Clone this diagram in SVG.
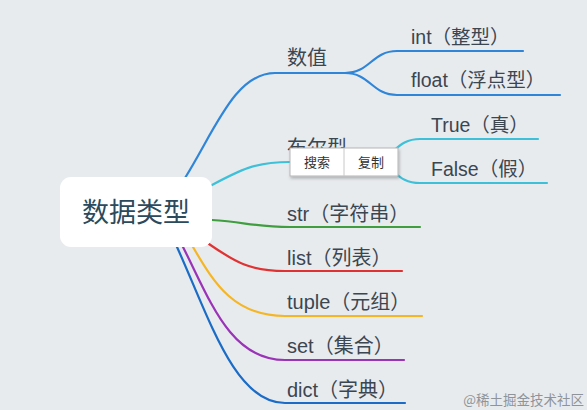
<svg xmlns="http://www.w3.org/2000/svg" width="587" height="410" viewBox="0 0 587 410">
<defs>
<style>
.t{font-family:"Liberation Sans","Noto Sans CJK SC",sans-serif;fill:#3b4651}
.br{font-size:20px}
.lf{font-size:19.5px}
.b{fill:none;stroke-width:2.2;stroke-linecap:round}
.pt{font-family:"Noto Sans CJK SC",sans-serif;font-size:13px;fill:#333;text-anchor:middle}
</style>
<filter id="sh" x="-10%" y="-20%" width="130%" height="160%"><feDropShadow dx="1" dy="2" stdDeviation="1.5" flood-color="#000" flood-opacity="0.25"/></filter>
</defs>
<rect width="587" height="410" fill="#e8ebee"/>
<g id="connectors">
<path class="b" stroke="#2f86d8" d="M185,178 C215,130 235,73 275,73 H345"/>
<path class="b" stroke="#2f86d8" d="M345,73 C370,73 372,51 397,51 H523"/>
<path class="b" stroke="#2f86d8" d="M345,73 C370,73 372,95 397,95 H560"/>
<path class="b" stroke="#3ec0d8" d="M212,185 C240,170 255,162 290,162 H368"/>
<path class="b" stroke="#3ec0d8" d="M368,162 C394,162 394,139 420,139 H538"/>
<path class="b" stroke="#3ec0d8" d="M368,162 C394,162 394,183 420,183 H547"/>
<path class="b" stroke="#3f9e3f" d="M212,220 C245,222 255,227 290,227 H420"/>
<path class="b" stroke="#e03232" d="M209,244 C235,262 250,271 285,271 H402"/>
<path class="b" stroke="#f5b626" d="M193,247 C215,285 235,316 285,316 H422"/>
<path class="b" stroke="#9a33b8" d="M183,247 C210,300 230,360 285,360 H404"/>
<path class="b" stroke="#1a6cc6" d="M177,247 C210,320 235,403 285,403 H405"/>
</g>
<g id="root">
<rect x="60" y="177" width="152" height="70" rx="11" fill="#ffffff"/>
<text class="t" x="136" y="222" font-size="27" text-anchor="middle" style="fill:#2b4a5c">数据类型</text>
</g>
<g id="n-shuzhi"><text class="t br" x="287" y="65">数值</text></g>
<g id="n-int"><text class="t lf" x="411" y="44">int（整型）</text></g>
<g id="n-float"><text class="t lf" x="411" y="87">float（浮点型）</text></g>
<g id="n-bool"><text class="t br" x="287" y="155">布尔型</text></g>
<g id="n-true"><text class="t lf" x="431" y="132">True（真）</text></g>
<g id="n-false"><text class="t lf" x="431" y="176">False（假）</text></g>
<g id="n-str"><text class="t br" x="287" y="221">str（字符串）</text></g>
<g id="n-list"><text class="t br" x="287" y="265">list（列表）</text></g>
<g id="n-tuple"><text class="t br" x="287" y="309">tuple（元组）</text></g>
<g id="n-set"><text class="t br" x="287" y="353">set（集合）</text></g>
<g id="n-dict"><text class="t br" x="287" y="397">dict（字典）</text></g>
<g id="popup">
<rect x="290" y="148" width="108" height="28" fill="#ffffff" stroke="#b5b5b5" stroke-width="1" filter="url(#sh)"/>
<line x1="344" y1="148" x2="344" y2="176" stroke="#c8c8c8" stroke-width="1"/>
<text class="pt" x="317" y="167">搜索</text>
<text class="pt" x="371" y="167">复制</text>
</g>
<text x="584" y="405" font-family="'Noto Sans CJK SC',sans-serif" font-size="13.5" text-anchor="end" fill="#8e949a">@稀土掘金技术社区</text>
</svg>
